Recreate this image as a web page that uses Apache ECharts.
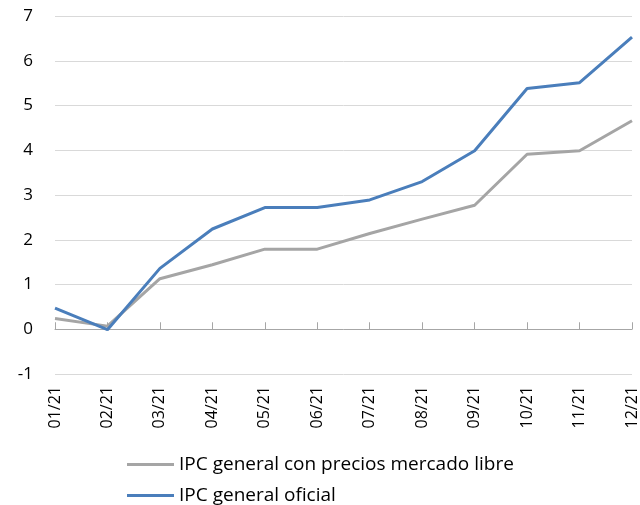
<!DOCTYPE html>
<html>
<head>
<meta charset="utf-8">
<script src="https://cdn.jsdelivr.net/npm/echarts@6/dist/echarts.min.js"></script>
<style>
  html, body { margin: 0; padding: 0; background: #fff; }
  #main { width: 640px; height: 505px; }
</style>
</head>
<body>
<div id="main"></div>
<script>
var months = ['01/21', '02/21', '03/21', '04/21', '05/21', '06/21', '07/21', '08/21', '09/21', '10/21', '11/21', '12/21'];
var ipcLibre = [0.24, 0.07, 1.13, 1.44, 1.79, 1.79, 2.14, 2.46, 2.77, 3.91, 3.99, 4.66];
var ipcOficial = [0.47, -0.01, 1.36, 2.24, 2.72, 2.72, 2.89, 3.3, 3.99, 5.38, 5.51, 6.53];
var yTicks = [-1, 0, 1, 2, 3, 4, 5, 6, 7];
var seriesNames = ['IPC general con precios mercado libre', 'IPC general oficial'];

var chart = echarts.init(document.getElementById('main'));
var font = '"Open Sans", sans-serif';

// one legend per row, stacked at the bottom
function legendRow(name, top) {
  return {
    left: 122,
    top: top,
    itemWidth: 47,
    itemHeight: 3,
    icon: 'rect',
    textStyle: { fontFamily: font, fontSize: 19, color: '#000' },
    data: [name]
  };
}

var option = {
  animation: false,
  grid: { left: 55, right: 8, top: 16, bottom: 131 },
  legend: [legendRow(seriesNames[0], 450), legendRow(seriesNames[1], 481)],
  xAxis: [{
    // axis line at zero
    type: 'category',
    data: months,
    boundaryGap: false,
    axisLine: { onZero: true, lineStyle: { color: '#a6a6a6', width: 1 } },
    axisTick: { inside: true, length: 7, lineStyle: { color: '#a6a6a6' } },
    axisLabel: { show: false }
  }, {
    // labels at the bottom
    type: 'category',
    data: months,
    boundaryGap: false,
    position: 'bottom',
    axisLine: { show: false, onZero: false },
    axisTick: { show: false },
    axisLabel: {
      rotate: 90,
      margin: 12,
      fontFamily: font,
      fontSize: 16,
      color: '#000'
    }
  }],
  yAxis: {
    type: 'value',
    min: yTicks[0],
    max: yTicks[yTicks.length - 1],
    interval: 1,
    axisLine: { show: false },
    axisTick: { show: false },
    axisLabel: { fontFamily: font, fontSize: 17, color: '#000', margin: 22 },
    splitLine: { lineStyle: { color: '#d9d9d9', width: 1 } }
  },
  series: [{
    name: seriesNames[0],
    type: 'line',
    data: ipcLibre,
    symbol: 'none',
    color: '#a5a5a5',
    lineStyle: { width: 3, color: '#a5a5a5' }
  }, {
    name: seriesNames[1],
    type: 'line',
    data: ipcOficial,
    symbol: 'none',
    color: '#4a7ebb',
    lineStyle: { width: 3, color: '#4a7ebb' }
  }]
};

chart.setOption(option);
</script>
</body>
</html>
